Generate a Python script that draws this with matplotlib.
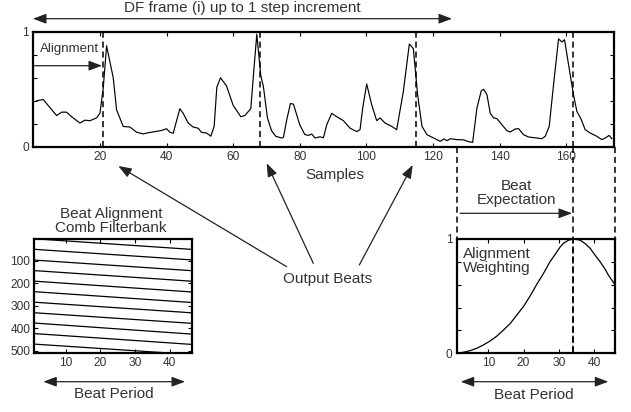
import numpy as np
import matplotlib
matplotlib.use('Agg')
import matplotlib.pyplot as plt
from matplotlib.lines import Line2D
from matplotlib.patches import FancyArrowPatch
from matplotlib.transforms import blended_transform_factory

plt.rcParams['font.family'] = ['Liberation Sans', 'DejaVu Sans']

# onset detection function (sample index, value)
df_x = [1, 3, 5, 7, 8.5, 10, 11.5, 14, 15.5, 17, 19, 20, 21, 22, 24, 25, 27, 29,
        31, 33, 34.5, 36.5, 38.5, 40, 41, 42, 44, 45, 46.5, 48, 49.5, 50.5, 52,
        53.3, 54.3, 55.1, 56.2, 58, 60, 62.3, 63.5, 65.3, 66.2, 67.1, 68.3, 69.1,
        70.3, 71.5, 72.8, 74.6, 75.1, 76.1, 77.2, 78.1, 80, 81.5, 82.6, 83.6, 84.6,
        86.1, 87.1, 88.1, 89.6, 91.1, 93.1, 95.1, 97.1, 98.1, 98.9, 100.1, 101.6,
        103.1, 104.1, 105.6, 107.6, 109.1, 111.1, 112.9, 114.1, 115.4, 116.7,
        118.2, 120.2, 122.2, 123.2, 124.2, 125.2, 127.2, 129.2, 130.7, 131.9,
        133.2, 134.5, 135.2, 136.2, 137.2, 138.2, 139.2, 140.7, 142.2, 143.2,
        144.7, 145.7, 147.2, 148.7, 151.2, 152.7, 153.7, 154.9, 156.2, 157.7,
        158.7, 159.5, 160.7, 162.2, 163.2, 164.4, 165.7, 167.2, 169.2, 170.7,
        171.7, 172.9, 173.7]
df_y = [0.40, 0.41, 0.34, 0.27, 0.30, 0.30, 0.26, 0.205, 0.23, 0.225, 0.25, 0.29,
        0.51, 0.88, 0.60, 0.32, 0.175, 0.17, 0.125, 0.11, 0.12, 0.13, 0.14, 0.155,
        0.125, 0.115, 0.33, 0.29, 0.205, 0.17, 0.16, 0.124, 0.118, 0.09, 0.176,
        0.517, 0.60, 0.53, 0.36, 0.26, 0.27, 0.33, 0.66, 0.98, 0.62, 0.52, 0.25,
        0.14, 0.089, 0.074, 0.08, 0.234, 0.375, 0.37, 0.19, 0.105, 0.097, 0.109,
        0.074, 0.085, 0.076, 0.19, 0.29, 0.26, 0.226, 0.16, 0.13, 0.147, 0.336,
        0.546, 0.365, 0.226, 0.25, 0.205, 0.176, 0.147, 0.48, 0.895, 0.855, 0.45,
        0.176, 0.103, 0.074, 0.045, 0.066, 0.051, 0.068, 0.06, 0.058, 0.042,
        0.036, 0.336, 0.487, 0.50, 0.453, 0.29, 0.25, 0.243, 0.19, 0.138, 0.127,
        0.153, 0.156, 0.103, 0.083, 0.074, 0.068, 0.089, 0.176, 0.54, 0.94,
        0.913, 0.933, 0.715, 0.45, 0.307, 0.243, 0.147, 0.118, 0.089, 0.06,
        0.074, 0.097, 0.068]

beats = [21, 68, 115, 162]

# comb filterbank lines: value at beat period 1 and 46
comb_start = [1, 48, 96, 143, 190, 237, 284, 331, 377, 424, 471]
comb_end = [48, 95, 143, 190, 238, 285, 331, 378, 426, 472, 517]

# alignment weighting
w_x = [1, 2.9, 4.8, 6.7, 8.6, 10.5, 12.4, 14.3, 16.2, 18.1, 20, 21.9, 23.7,
       25.7, 27.5, 29, 30.4, 31.3, 32.8, 34.2, 36.1, 37.5, 38.9, 40.3, 41.8,
       43.2, 44.1, 45.1, 46]
w_y = [0.0, 0.009, 0.023, 0.044, 0.073, 0.108, 0.15, 0.204, 0.26, 0.335, 0.41,
       0.503, 0.60, 0.70, 0.80, 0.866, 0.93, 0.962, 0.99, 1.0, 0.99, 0.96, 0.92,
       0.86, 0.80, 0.735, 0.685, 0.64, 0.60]
expected_period = 34

W, H = 631, 412
txt = '#333333'
FS = 11
TFS = 8.6


def fx(px):
    return px / W


def fy(py):
    return 1 - py / H


def style_ax(ax):
    for s in ax.spines.values():
        s.set_linewidth(1.6)
    ax.tick_params(direction='in', length=3, width=0.8, top=True, right=True,
                   labelsize=TFS, labelcolor=txt, pad=3)


def arrow(fig, a, b, style='-|>'):
    p = FancyArrowPatch((fx(a[0]), fy(a[1])), (fx(b[0]), fy(b[1])),
                        transform=fig.transFigure, arrowstyle=style,
                        mutation_scale=10, lw=0.9, color='#222222',
                        shrinkA=0, shrinkB=0)
    p.set_arrowstyle(style, head_length=0.8, head_width=0.3)
    fig.add_artist(p)


fig = plt.figure(figsize=(W / 100, H / 100), dpi=100, facecolor='white')

# top: detection function
ax = fig.add_axes([fx(33.3), fy(146.5), fx(613.5) - fx(33.3), fy(32) - fy(146.5)])
style_ax(ax)
ax.plot(df_x, df_y, color='black', lw=0.85)
for b in beats:
    ax.axvline(b, color='black', lw=1.1, ls=(0, (4, 2.5)))
ax.set_xlim(0, 174.2)
ax.set_ylim(0, 1)
ax.set_xticks(np.arange(20, 161, 20))
ax.set_yticks(np.arange(0, 1.01, 0.2))
ax.set_yticklabels(['0', '', '', '', '', '1'])

# bottom left: comb filterbank
axl = fig.add_axes([fx(34.3), fy(353.3), fx(192.3) - fx(34.3), fy(239) - fy(353.3)])
style_ax(axl)
for c0, c1 in zip(comb_start, comb_end):
    axl.plot([1, 46], [c0, c1], color='black', lw=0.9)
axl.set_xlim(1, 46.5)
axl.set_ylim(512, 2)
axl.set_xticks([10, 20, 30, 40])
axl.set_yticks([100, 200, 300, 400, 500])

# bottom right: alignment weighting
axr = fig.add_axes([fx(456.7), fy(353.3), fx(615) - fx(456.7), fy(239) - fy(353.3)])
style_ax(axr)
axr.plot(w_x, w_y, color='black', lw=0.9)
axr.axvline(expected_period, color='black', lw=1.1, ls=(0, (4, 2.5)))
axr.set_xlim(1, 46)
axr.set_ylim(0, 1)
axr.set_xticks([10, 20, 30, 40])
axr.set_yticks(np.arange(0, 1.01, 0.2))
axr.set_yticklabels(['0', '', '', '', '', '1'])

# dashed guides between top plot and weighting plot
tr = blended_transform_factory(axr.transData, fig.transFigure)
for xv, ybot in [(1, 239), (expected_period, 353.3), (46, 239)]:
    fig.add_artist(Line2D([xv, xv], [fy(146.5), fy(ybot)], transform=tr,
                          color='black', lw=1.1, ls=(0, (4, 2.5))))

# annotations
fig.text(fx(242), fy(8), 'DF frame (i) up to 1 step increment', ha='center',
         va='center', fontsize=FS, color=txt)
arrow(fig, (33, 18.7), (452, 18.7), '<|-|>')
fig.text(fx(40), fy(49), 'Alignment', ha='left', va='center', fontsize=FS - 1.5,
         color=txt)
arrow(fig, (34, 65.7), (102, 65.7))
fig.text(fx(335), fy(175), 'Samples', ha='center', va='center', fontsize=FS,
         color=txt)

fig.text(fx(328), fy(279), 'Output Beats', ha='center', va='center', fontsize=FS,
         color=txt)
arrow(fig, (286.7, 266.7), (118.3, 166))
arrow(fig, (313.3, 263.3), (266.7, 163.3))
arrow(fig, (359.3, 265), (412.7, 165))

fig.text(fx(111), fy(221), 'Beat Alignment\nComb Filterbank', ha='center',
         va='center', fontsize=FS, color=txt, linespacing=1.05)
arrow(fig, (43.3, 381.7), (185, 381.7), '<|-|>')
fig.text(fx(114), fy(394), 'Beat Period', ha='center', va='center', fontsize=FS,
         color=txt)

fig.text(fx(516), fy(193), 'Beat\nExpectation', ha='center', va='center',
         fontsize=FS, color=txt, linespacing=1.05)
arrow(fig, (460, 213.3), (572, 213.3))
fig.text(fx(462.7), fy(261), 'Alignment\nWeighting', ha='left', va='center',
         fontsize=FS, color=txt, linespacing=1.0)
arrow(fig, (460.7, 381.7), (608.3, 381.7), '<|-|>')
fig.text(fx(534), fy(395), 'Beat Period', ha='center', va='center', fontsize=FS,
         color=txt)

fig.savefig('out.png', dpi=100, facecolor='white')
